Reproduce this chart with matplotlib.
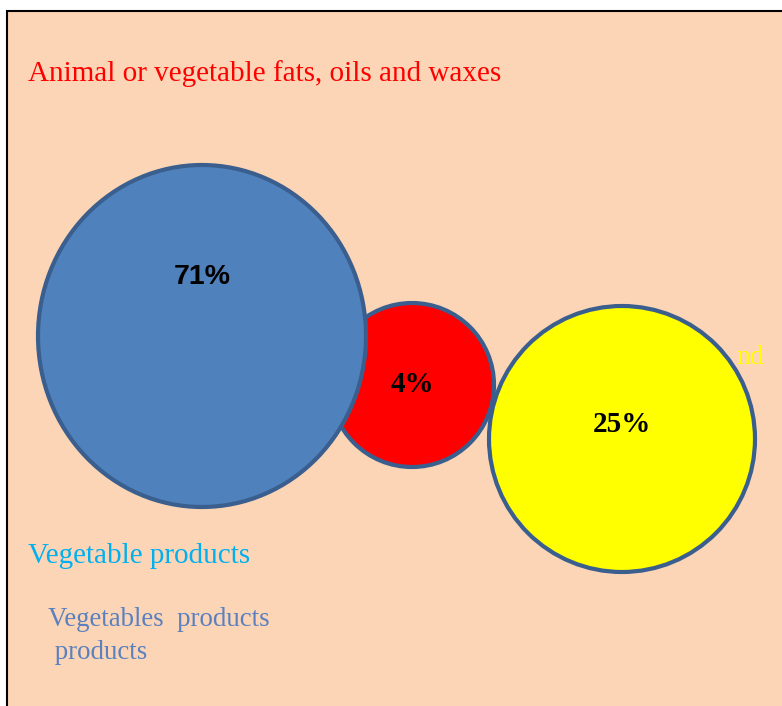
import matplotlib.pyplot as plt
from matplotlib.patches import Ellipse, Rectangle

# bubbles: share label, centre and radius (pixel units of the slide)
labels = ['71%', '4%', '25%']
centers_x = [202, 412, 622]
centers_y = [336, 385, 439]
radii_x = [164, 82, 133]
radii_y = [171, 82, 133]
fills = ['#4F81BD', '#FF0000', '#FFFF00']
label_y = [277, 384, 424]
draw_order = [3, 1, 2]

title = 'Animal or vegetable fats, oils and waxes'
legend_1 = 'Vegetable products'
legend_2 = 'Vegetables  products\n products'

fig = plt.figure(figsize=(7.82, 7.06), dpi=100)
ax = fig.add_axes([0, 0, 1, 1])
ax.set_xlim(0, 782)
ax.set_ylim(706, 0)
ax.axis('off')

# slide background
ax.add_patch(Rectangle((6.5, 11), 800, 720, facecolor='#FBD5B5', edgecolor='black', lw=1.5, zorder=0))

serif = 'Liberation Serif'

# partly hidden yellow label behind the yellow bubble
ax.text(736, 357, 'nd', color='#FFFF00', fontsize=20, family=serif, va='center', ha='left', zorder=1)

for i in range(len(labels)):
    e = Ellipse((centers_x[i], centers_y[i]), 2 * radii_x[i], 2 * radii_y[i],
                facecolor=fills[i], edgecolor='#3A5F8E', lw=3, zorder=2 + draw_order[i])
    ax.add_patch(e)
    if i == 0:
        ax.text(centers_x[i], label_y[i], labels[i], fontsize=20.5, fontweight='bold',
                family='Liberation Sans', ha='center', va='center', zorder=10)
    else:
        ax.text(centers_x[i], label_y[i], labels[i], fontsize=21, fontweight='bold',
                family=serif, ha='center', va='center', zorder=10)

ax.text(28, 74, title, color='#FF0000', fontsize=21, family=serif, va='center', ha='left')
ax.text(28, 556, legend_1, color='#00B0F0', fontsize=21, family=serif, va='center', ha='left')
ax.text(48, 636, legend_2, color='#5B80BF', fontsize=19.4, family=serif, va='center', ha='left',
        linespacing=1.44)

fig.savefig('out.png', dpi=100)
